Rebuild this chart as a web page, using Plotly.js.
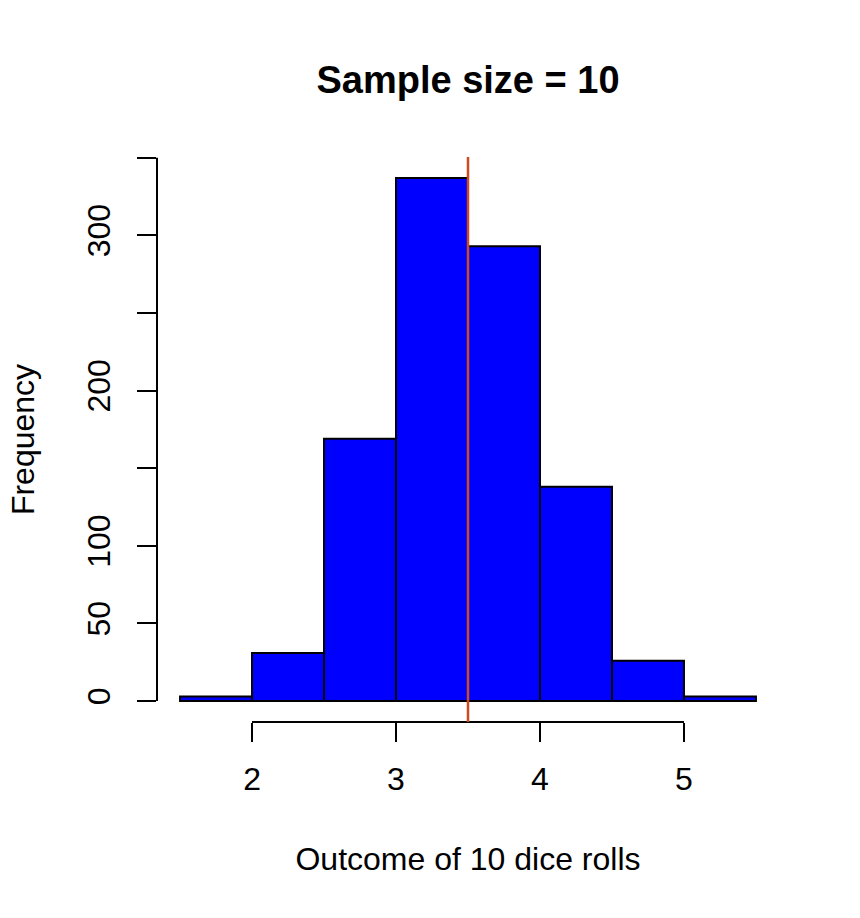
<!DOCTYPE html>
<html>
<head>
<meta charset="utf-8">
<script src="https://cdn.plot.ly/plotly-3.0.1.min.js"></script>
<style>
  body {margin: 0; background: #fff;}
  #plot {width: 860px; height: 918px;}
</style>
</head>
<body>
<div id="plot"></div>
<script>
/////Data/////
const BREAKS = [1.5, 2, 2.5, 3, 3.5, 4, 4.5, 5, 5.5];
const COUNTS = [3, 31, 169, 337, 293, 138, 26, 3];
const MEAN_LINE = 3.5;
const X_TICKS = [2, 3, 4, 5];
const Y_TICKS = [0, 50, 100, 150, 200, 250, 300, 350];
const Y_TICK_TEXT = ['0', '50', '100', '', '200', '', '300', ''];
const TITLE = 'Sample size = 10';
const X_LABEL = 'Outcome of 10 dice rolls';
const Y_LABEL = 'Frequency';

// R style limits: data range padded by 4% each side
function padRange(lo, hi) {
  let d = (hi - lo) * 0.04;
  return [lo - d, hi + d];
}

let mids = [];
let widths = [];
for (let i = 0; i < COUNTS.length; i++) {
  mids.push((BREAKS[i] + BREAKS[i + 1]) / 2);
  widths.push(BREAKS[i + 1] - BREAKS[i]);
}

const FONT = 'Liberation Sans, Arial, Helvetica, sans-serif';

let histTrace = {
  type: 'bar',
  x: mids,
  y: COUNTS,
  width: widths,
  marker: {color: '#0000ff', line: {color: '#000000', width: 2}},
  hoverinfo: 'x+y',
};

let layout = {
  width: 860,
  height: 918,
  margin: {l: 157, r: 81, t: 157, b: 196},
  paper_bgcolor: '#ffffff',
  plot_bgcolor: '#ffffff',
  showlegend: false,
  font: {family: FONT, size: 32, color: '#000000'},
  title: {
    text: TITLE,
    font: {family: FONT, size: 38, weight: 'bold', color: '#000000'},
    xref: 'paper', x: 0.5, xanchor: 'center',
    yref: 'container', y: 1 - 80 / 918, yanchor: 'middle',
  },
  xaxis: {
    range: padRange(BREAKS[0], BREAKS[BREAKS.length - 1]),
    showgrid: false, zeroline: false, showline: false,
    tickmode: 'array', tickvals: X_TICKS,
    ticks: 'outside', ticklen: 19, tickwidth: 2, tickcolor: '#000000',
    ticklabelstandoff: 10,
    tickfont: {family: FONT, size: 32},
    title: {text: X_LABEL, font: {family: FONT, size: 32}, standoff: 51},
  },
  yaxis: {
    range: padRange(0, Math.max(...COUNTS)),
    showgrid: false, zeroline: false, showline: false,
    tickmode: 'array', tickvals: Y_TICKS, ticktext: Y_TICK_TEXT,
    tickangle: -90,
    ticks: 'outside', ticklen: 19, tickwidth: 2, tickcolor: '#000000',
    ticklabelstandoff: 14,
    tickfont: {family: FONT, size: 32},
    title: {text: Y_LABEL, font: {family: FONT, size: 32}, standoff: 37},
  },
  shapes: [
    // x axis line, first to last tick
    {type: 'line', xref: 'x', yref: 'paper',
     x0: X_TICKS[0], x1: X_TICKS[X_TICKS.length - 1], y0: 0, y1: 0,
     line: {color: '#000000', width: 2}},
    // y axis line
    {type: 'line', xref: 'paper', yref: 'y',
     x0: 0, x1: 0, y0: Y_TICKS[0], y1: Y_TICKS[Y_TICKS.length - 1],
     line: {color: '#000000', width: 2}},
    // vertical line at the expected mean
    {type: 'line', xref: 'x', yref: 'paper',
     x0: MEAN_LINE, x1: MEAN_LINE, y0: 0, y1: 1,
     line: {color: '#cf4a1c', width: 2.5}},
  ],
};

Plotly.newPlot('plot', [histTrace], layout, {displayModeBar: false, staticPlot: true});
</script>
</body>
</html>
